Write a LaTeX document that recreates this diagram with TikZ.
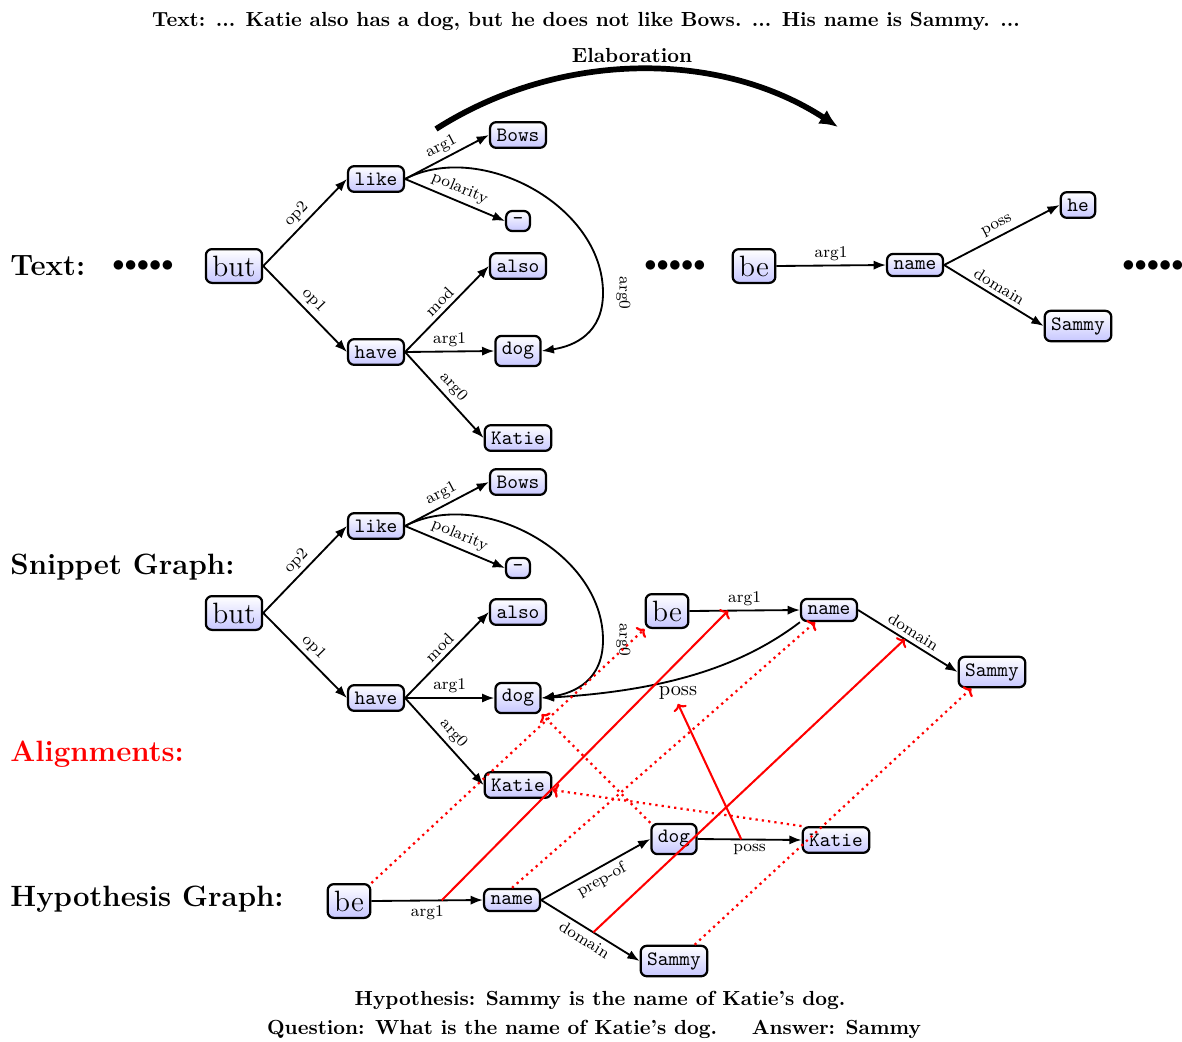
\documentclass[tikz,border=0pt]{standalone}
\usetikzlibrary{arrows.meta,calc}
\begin{document}
\begin{tikzpicture}[x=0.49pt,y=-0.49pt,
  amr/.style={draw, line width=1.1pt, rounded corners=3pt, top color=white,
    bottom color=blue!22, font=\ttfamily, inner sep=3.2pt},
  amrbig/.style={amr, font=\Large},
  edge/.style={line width=0.9pt, -{Latex[length=6pt,width=4.5pt]}},
  lab/.style={font=\footnotesize, sloped, above, inner sep=2pt},
  labb/.style={font=\footnotesize, sloped, below, inner sep=2pt},
  alignD/.style={red, line width=1.1pt, dotted, -{To[length=3pt,width=7pt]}},
  alignS/.style={red, line width=1pt, -{To[length=3pt,width=7pt]}},
  dots/.style={font=\large, inner sep=0pt},
  heading/.style={anchor=west, font=\Large\bfseries, inner sep=0pt}]
\useasboundingbox (0,0) rectangle (1182,1041);

% ---------- captions ----------
\node[font=\bfseries] (title) at (586,21)
  {Text: ... Katie also has a dog, but he does not like Bows. ... His name is Sammy. ...};
\node[font=\bfseries] (elab) at (632,55) {Elaboration};
\coordinate (elabS) at (436,129);
\coordinate (elabE) at (838,127);
\draw[line width=2.8pt, -{Latex[length=9pt,width=8pt]}]
  (elabS) .. controls (560,50) and (720,50) .. (elabE);

\node[heading] (hText) at (10,266) {Text:};
\node[heading] (hSnip) at (10,567) {Snippet Graph:};
\node[heading, text=red] (hAlign) at (10,754) {Alignments:};
\node[heading] (hHyp) at (10,899) {Hypothesis Graph:};

% ---------- text graph ----------
\node[dots] (dotsA) at (143,266) {${\bullet}{\bullet}{\bullet}{\bullet}{\bullet}$};
\node[dots] (dotsB) at (675,266) {${\bullet}{\bullet}{\bullet}{\bullet}{\bullet}$};
\node[dots] (dotsC) at (1153,266) {${\bullet}{\bullet}{\bullet}{\bullet}{\bullet}$};

\node[amrbig] (tbut) at (234,266) {but};
\node[amr] (tlike) at (376,179) {like};
\node[amr] (tbows) at (518,135) {Bows};
\node[amr] (tneg) at (518,221) {-};
\node[amr] (talso) at (518,266) {also};
\node[amr] (thave) at (376,352) {have};
\node[amr] (tdog) at (518,351) {dog};
\node[amr] (tkatie) at (518,438) {Katie};
\node[amrbig] (tbe) at (754,266) {be};
\node[amr] (tname) at (915,265) {name};
\node[amr] (the) at (1078,205) {he};
\node[amr] (tsammy) at (1078,326) {Sammy};

\draw[edge] (tbut.east) -- node[lab]{op2} (tlike.west);
\draw[edge] (tbut.east) -- node[lab]{op1} (thave.west);
\draw[edge] (tlike.east) -- node[lab]{arg1} (tbows.west);
\draw[edge] (tlike.east) -- node[lab]{polarity} (tneg.west);
\draw[edge] (tlike.east) .. controls (480,140) and (603,205) .. (603,293)
  node[lab, pos=1, above=4pt]{arg0}
  .. controls (603,333) and (575,346) .. (tdog.east);
\draw[edge] (thave.east) -- node[lab]{mod} (talso.west);
\draw[edge] (thave.east) -- node[lab]{arg1} (tdog.west);
\draw[edge] (thave.east) -- node[lab]{arg0} (tkatie.west);
\draw[edge] (tbe.east) -- node[lab]{arg1} (tname.west);
\draw[edge] (tname.east) -- node[lab]{poss} (the.west);
\draw[edge] (tname.east) -- node[lab]{domain} (tsammy.west);

% ---------- snippet graph ----------
\node[amrbig] (sbut) at (234,613) {but};
\node[amr] (slike) at (376,526) {like};
\node[amr] (sbows) at (518,482) {Bows};
\node[amr] (sneg) at (518,568) {-};
\node[amr] (salso) at (518,612) {also};
\node[amr] (shave) at (376,698) {have};
\node[amr] (sdog) at (518,698) {dog};
\node[amr] (skatie) at (518,785) {Katie};
\node[amrbig] (sbe) at (667,611) {be};
\node[amr] (sname) at (829,610) {name};
\node[amr] (ssammy) at (992,672) {Sammy};

\draw[edge] (sbut.east) -- node[lab]{op2} (slike.west);
\draw[edge] (sbut.east) -- node[lab]{op1} (shave.west);
\draw[edge] (slike.east) -- node[lab]{arg1} (sbows.west);
\draw[edge] (slike.east) -- node[lab]{polarity} (sneg.west);
\draw[edge] (slike.east) .. controls (480,487) and (603,552) .. (603,640)
  node[lab, pos=1, above=4pt]{arg0}
  .. controls (603,680) and (575,693) .. (sdog.east);
\draw[edge] (shave.east) -- node[lab]{mod} (salso.west);
\draw[edge] (shave.east) -- node[lab]{arg1} (sdog.west);
\draw[edge] (shave.east) -- node[lab]{arg0} (skatie.west);
\draw[edge] (sbe.east) -- coordinate[pos=0.35] (sa) node[lab]{arg1} (sname.west);
\draw[edge] (sname.east) -- coordinate[pos=0.47] (sb) node[lab]{domain} (ssammy.west);
\draw[edge] (sname.south west) .. controls (750,660) and (680,690) .. (sdog.east)
  node[pos=0.6, below=2pt, inner sep=1.5pt] (sposs) {poss};

% ---------- hypothesis graph ----------
\node[amrbig] (hbe) at (349,901) {be};
\node[amr] (hname) at (512,900) {name};
\node[amr] (hdog) at (674,839) {dog};
\node[amr] (hkatie) at (836,840) {Katie};
\node[amr] (hsammy) at (674,961) {Sammy};

\draw[edge] (hbe.east) -- coordinate[pos=0.63] (ha) node[labb]{arg1} (hname.west);
\draw[edge] (hname.east) -- node[labb]{prep-of} (hdog.west);
\draw[edge] (hname.east) -- coordinate[pos=0.53] (hb) node[labb]{domain} (hsammy.west);
\draw[edge] (hdog.east) -- coordinate[pos=0.42] (hc) node[labb]{poss} (hkatie.west);

% ---------- alignments ----------
\draw[alignD] (hbe.north east) -- (sbe.south west);
\draw[alignD] (hname.north) -- (sname);
\draw[alignD] (hdog.north west) -- (sdog.south east);
\draw[alignD] (hkatie.north west) -- (skatie);
\draw[alignD] ($(hsammy.north)!0.6!(hsammy.north east)$)
  -- ($(ssammy.south west)!0.4!(ssammy.south)$);
\draw[alignS] (ha) -- (sa);
\draw[alignS] (hb) -- (sb);
\draw[alignS] (hc) -- (sposs.south);

% ---------- bottom captions ----------
\node[font=\bfseries] (hypText) at (600,1000) {Hypothesis: Sammy is the name of Katie's dog.};
\node[font=\bfseries] (qaText) at (594,1029)
  {Question: What is the name of Katie's dog.\hspace{17pt}Answer: Sammy};
\end{tikzpicture}
\end{document}
